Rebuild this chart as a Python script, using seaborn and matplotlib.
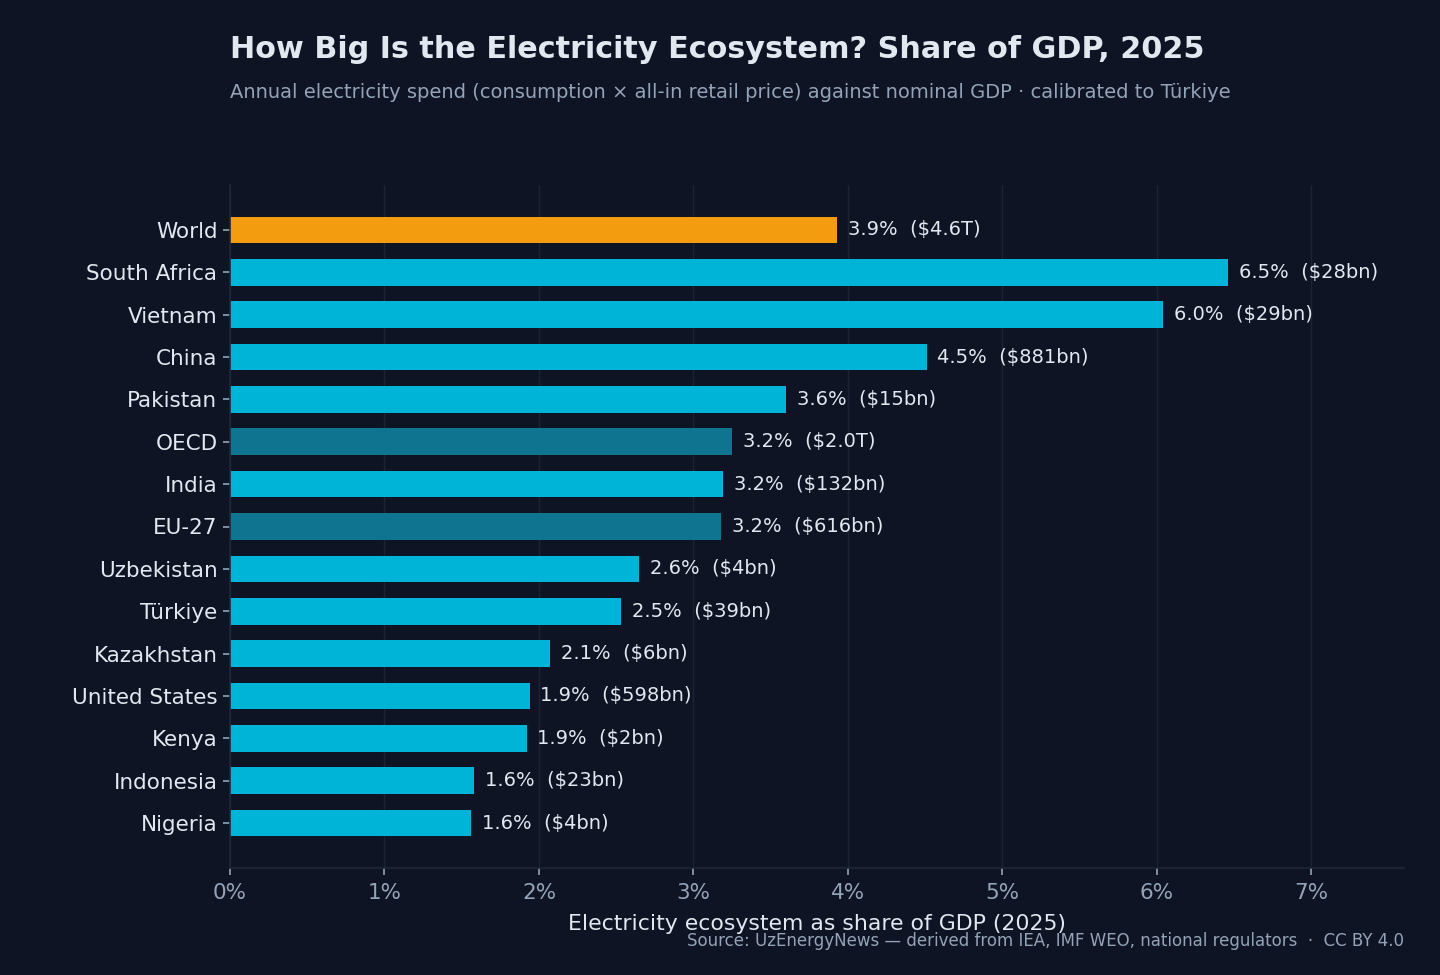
import matplotlib
matplotlib.use("Agg")
import matplotlib.pyplot as plt
import seaborn as sns
import pandas as pd
from matplotlib.ticker import FuncFormatter

regions = ["World", "South Africa", "Vietnam", "China", "Pakistan", "OECD", "India",
           "EU-27", "Uzbekistan", "Türkiye", "Kazakhstan", "United States", "Kenya",
           "Indonesia", "Nigeria"]
share_pct = [3.93, 6.46, 6.04, 4.51, 3.60, 3.25, 3.19, 3.18, 2.65, 2.53, 2.07, 1.94, 1.92, 1.58, 1.56]
spend_labels = ["$4.6T", "$28bn", "$29bn", "$881bn", "$15bn", "$2.0T", "$132bn", "$616bn",
                "$4bn", "$39bn", "$6bn", "$598bn", "$2bn", "$23bn", "$4bn"]
kinds = ["world", "country", "country", "country", "country", "bloc", "country", "bloc",
         "country", "country", "country", "country", "country", "country", "country"]
pct_text = ["3.9%", "6.5%", "6.0%", "4.5%", "3.6%", "3.2%", "3.2%", "3.2%", "2.6%", "2.5%",
            "2.1%", "1.9%", "1.9%", "1.6%", "1.6%"]

BG = "#0e1423"
GRID = "#1c2434"
TXT = "#e2e8f0"
MUTED = "#94a3b8"
palette = {"world": "#f39c0f", "country": "#00b4d8", "bloc": "#0e7490"}

sns.set_theme(style="dark")
plt.rcParams["font.family"] = ["DejaVu Sans"]

df = pd.DataFrame({"region": regions, "share": share_pct, "kind": kinds})

fig = plt.figure(figsize=(14.4, 9.75), dpi=100, facecolor=BG)
ax = fig.add_axes([230/1440, 1-868/975, (1404-230)/1440, (868-185)/975])
ax.set_facecolor(BG)

sns.barplot(data=df, y="region", x="share", hue="kind", palette=palette, dodge=False,
            width=0.63, legend=False, ax=ax, saturation=1, orient="h", linewidth=0)

ax.set_xlim(0, 7.6)
ax.set_ylim(len(regions) - 1 + 1.06, -1.06)
ax.set_xticks(range(0, 8))
ax.xaxis.set_major_formatter(FuncFormatter(lambda v, p: f"{int(v)}%"))
ax.grid(axis="x", color=GRID, linewidth=1)
ax.grid(axis="y", visible=False)
ax.set_axisbelow(True)

for s in ["top", "right"]:
    ax.spines[s].set_visible(False)
for s in ["left", "bottom"]:
    ax.spines[s].set_visible(True)
    ax.spines[s].set_color("#1f2838")
    ax.spines[s].set_linewidth(1.2)

ax.tick_params(axis="y", colors=MUTED, labelcolor=TXT, labelsize=15.5, length=5, width=1.2, left=True, pad=4)
ax.tick_params(axis="x", colors=MUTED, labelcolor=MUTED, labelsize=15.5, length=5, width=1.2, bottom=True, pad=6)
ax.set_ylabel("")
ax.set_xlabel("Electricity ecosystem as share of GDP (2025)", color=TXT, fontsize=15.8, labelpad=8)

for i, (v, p, s) in enumerate(zip(share_pct, pct_text, spend_labels)):
    ax.text(v + 0.07, i, f"{p}  ({s})", va="center", ha="left", color=TXT, fontsize=14)

fig.text(230/1440, 1-50/975, "How Big Is the Electricity Ecosystem? Share of GDP, 2025",
         color=TXT, fontsize=21.8, fontweight="bold", ha="left", va="center")
fig.text(230/1440, 1-93/975,
         "Annual electricity spend (consumption × all-in retail price) against nominal GDP · calibrated to Türkiye",
         color=MUTED, fontsize=14, ha="left", va="center")
fig.text(1404/1440, 1-941/975,
         "Source: UzEnergyNews — derived from IEA, IMF WEO, national regulators  ·  CC BY 4.0",
         color=MUTED, fontsize=12, ha="right", va="center")

fig.savefig("out.png", dpi=100, facecolor=BG)
